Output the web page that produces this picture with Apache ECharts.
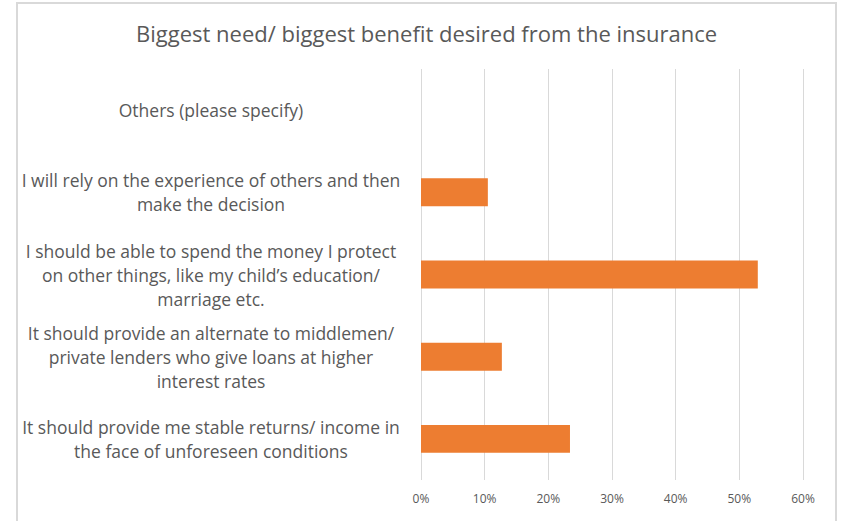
<!DOCTYPE html>
<html>
<head>
<meta charset="utf-8">
<script src="https://cdn.jsdelivr.net/npm/echarts@6/dist/echarts.min.js"></script>
<style>
  html, body { margin: 0; padding: 0; background: #fff; overflow: hidden; }
  #frame { position: absolute; left: 16px; top: 2px; width: 817px; height: 540px; border: 2px solid #d9d9d9; border-bottom: none; }
  #chart { position: absolute; left: 0; top: 0; width: 842px; height: 521px; }
</style>
</head>
<body>
<div id="frame"></div>
<div id="chart"></div>
<script>
// categories listed bottom to top (as ECharts draws a category y axis)
var categories = [
  'It should provide me stable returns/ income in\nthe face of unforeseen conditions',
  'It should provide an alternate to middlemen/\nprivate lenders who give loans at higher\ninterest rates',
  'I should be able to spend the money I protect\non other things, like my child\u2019s education/\nmarriage etc.',
  'I will rely on the experience of others and then\nmake the decision',
  'Others (please specify)'
];
var shares = [23.4, 12.7, 52.9, 10.5, 0];
var tickMax = 60;
var tickStep = 10;

var textColor = '#595959';
var fontFamily = '"Open Sans", sans-serif';

var chart = echarts.init(document.getElementById('chart'), null, { renderer: 'svg' });
chart.setOption({
  animation: false,
  title: {
    text: 'Biggest need/ biggest benefit desired from the insurance',
    left: 131,
    top: 17,
    textStyle: { color: textColor, fontSize: 22, fontWeight: 'normal', fontFamily: fontFamily }
  },
  grid: { left: 421, right: 39, top: 69, bottom: 41, containLabel: false },
  xAxis: {
    type: 'value',
    min: 0,
    max: tickMax,
    interval: tickStep,
    axisLabel: { color: textColor, fontSize: 12, fontFamily: fontFamily, margin: 12, formatter: '{value}%' },
    axisLine: { show: false },
    axisTick: { show: false },
    splitLine: { lineStyle: { color: '#d9d9d9', width: 1 } }
  },
  yAxis: {
    type: 'category',
    data: categories,
    axisLabel: {
      color: textColor,
      fontSize: 17.5,
      lineHeight: 24,
      fontFamily: fontFamily,
      align: 'center',
      margin: 210
    },
    axisLine: { show: false },
    axisTick: { show: false }
  },
  series: [{
    type: 'bar',
    data: shares,
    barWidth: '34%',
    itemStyle: { color: '#ed7d31' }
  }]
});
</script>
</body>
</html>
